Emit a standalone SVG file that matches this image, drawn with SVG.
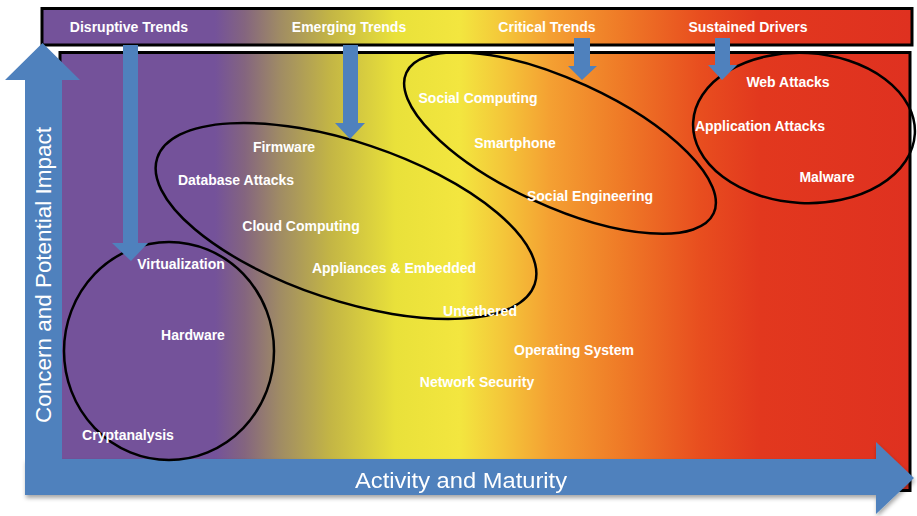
<svg xmlns="http://www.w3.org/2000/svg" width="917" height="516" viewBox="0 0 917 516">
  <defs>
    <linearGradient id="heat" gradientUnits="userSpaceOnUse" x1="42" y1="0" x2="912" y2="0">
      <stop offset="0" stop-color="#74529A"/>
      <stop offset="0.199" stop-color="#74529A"/>
      <stop offset="0.233" stop-color="#84657F"/>
      <stop offset="0.274" stop-color="#A08C64"/>
      <stop offset="0.331" stop-color="#C3B545"/>
      <stop offset="0.406" stop-color="#E9E13A"/>
      <stop offset="0.48" stop-color="#F3E63F"/>
      <stop offset="0.526" stop-color="#F4C93A"/>
      <stop offset="0.584" stop-color="#F4A032"/>
      <stop offset="0.664" stop-color="#EF7B27"/>
      <stop offset="0.756" stop-color="#E84E1F"/>
      <stop offset="0.825" stop-color="#E2381E"/>
      <stop offset="1" stop-color="#DF3120"/>
    </linearGradient>
    <filter id="shadow" x="-5%" y="-20%" width="110%" height="150%">
      <feDropShadow dx="1" dy="3" stdDeviation="2" flood-color="#000" flood-opacity="0.35"/>
    </filter>
    <style>
      .lbl { font-family: "Liberation Sans", Arial, sans-serif; font-weight: bold; font-size: 14px; fill: #FFFFFF; text-anchor: middle; }
      .axis { font-family: "Liberation Sans", Arial, sans-serif; font-size: 22px; fill: #FFFFFF; text-anchor: middle; }
      .ring { fill: none; stroke: #000; stroke-width: 2.5; }
      .blue { fill: #4F81BD; }
    </style>
  </defs>

  <!-- background panels -->
  <rect x="60" y="52.5" width="850" height="438" fill="url(#heat)" stroke="#000" stroke-width="3"/>
  <rect x="42" y="8.5" width="870" height="36.5" fill="url(#heat)" stroke="#000" stroke-width="3"/>

  <!-- axes -->
  <g id="axis-x" filter="url(#shadow)">
    <polygon class="blue" points="25,459 876,459 876,442 914,478 876,514 876,495 25,495"/>
    <text class="axis" x="461" y="488" textLength="212" lengthAdjust="spacingAndGlyphs">Activity and Maturity</text>
  </g>
  <g id="axis-y">
    <polygon class="blue" points="25,495 25,80 5,80 42.5,43 80,80 62,80 62,495"/>
    <text class="axis" transform="translate(51,275) rotate(-90)" x="0" y="0" textLength="296" lengthAdjust="spacingAndGlyphs">Concern and Potential Impact</text>
  </g>

  <!-- groupings -->
  <g id="groups">
    <ellipse id="ring-disruptive" class="ring" cx="169" cy="351" rx="105" ry="109"/>
    <ellipse id="ring-emerging" class="ring" cx="346" cy="221" rx="199" ry="79" transform="rotate(18.5 346 221)"/>
    <ellipse id="ring-critical" class="ring" cx="560" cy="143" rx="169" ry="63" transform="rotate(24.6 560 143)"/>
    <ellipse id="ring-sustained" class="ring" cx="804" cy="128" rx="111" ry="75" transform="rotate(3 804 128)"/>
  </g>

  <!-- connectors -->
  <g id="connectors">
    <polygon class="blue" points="123,45 138,45 138,243 148,243 131,261 112,243 123,243"/>
    <polygon class="blue" points="343,45 358,45 358,123 365,123 350,139 335,123 343,123"/>
    <polygon class="blue" points="574,38 590,38 590,66 597,66 582,80 568,66 574,66"/>
    <polygon class="blue" points="715,38 730,38 730,65 737,65 722,80 708,65 715,65"/>
  </g>

  <!-- headers -->
  <g id="disruptive-trends"><text class="lbl" x="129" y="32">Disruptive Trends</text></g>
  <g id="emerging-trends"><text class="lbl" x="349" y="32">Emerging Trends</text></g>
  <g id="critical-trends"><text class="lbl" x="547" y="32">Critical Trends</text></g>
  <g id="sustained-drivers"><text class="lbl" x="748" y="32">Sustained Drivers</text></g>

  <!-- items -->
  <g id="web-attacks"><text class="lbl" x="788" y="87">Web Attacks</text></g>
  <g id="application-attacks"><text class="lbl" x="760" y="131">Application Attacks</text></g>
  <g id="malware"><text class="lbl" x="827" y="182">Malware</text></g>
  <g id="social-computing"><text class="lbl" x="478" y="103">Social Computing</text></g>
  <g id="smartphone"><text class="lbl" x="515" y="148">Smartphone</text></g>
  <g id="social-engineering"><text class="lbl" x="590" y="201">Social Engineering</text></g>
  <g id="firmware"><text class="lbl" x="284" y="152">Firmware</text></g>
  <g id="database-attacks"><text class="lbl" x="236" y="185">Database Attacks</text></g>
  <g id="cloud-computing"><text class="lbl" x="301" y="231">Cloud Computing</text></g>
  <g id="appliances-embedded"><text class="lbl" x="394" y="273">Appliances &amp; Embedded</text></g>
  <g id="virtualization"><text class="lbl" x="181" y="269">Virtualization</text></g>
  <g id="hardware"><text class="lbl" x="193" y="340">Hardware</text></g>
  <g id="cryptanalysis"><text class="lbl" x="128" y="440">Cryptanalysis</text></g>
  <g id="untethered"><text class="lbl" x="480" y="316">Untethered</text></g>
  <g id="operating-system"><text class="lbl" x="574" y="355">Operating System</text></g>
  <g id="network-security"><text class="lbl" x="477" y="387">Network Security</text></g>
</svg>
